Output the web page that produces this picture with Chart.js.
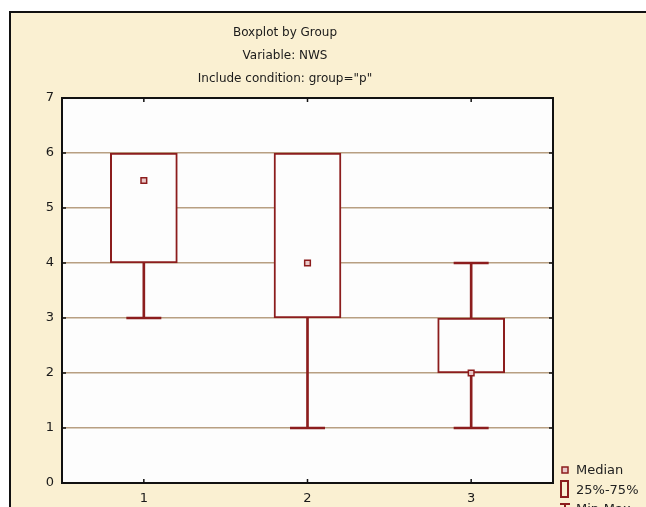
<!DOCTYPE html>
<html>
<head>
<meta charset="utf-8">
<script src="https://cdn.jsdelivr.net/npm/chart.js@4.4.0/dist/chart.umd.min.js"></script>
<style>
  html, body { margin: 0; padding: 0; background: #fff; }
  #wrap { position: relative; width: 646px; height: 507px; overflow: hidden; }
  #panel {
    position: absolute; left: 9px; top: 11px; width: 700px; height: 600px;
    background: #faf0d2; border-left: 2px solid #111; border-top: 2px solid #111;
  }
  #c { position: absolute; left: 0; top: 0; }
</style>
</head>
<body>
<div id="wrap">
  <div id="panel"></div>
  <canvas id="c" width="646" height="507"></canvas>
</div>
<script>
// boxplot values per group
const groups = ["1", "2", "3"];
const mins = [3, 1, 1];
const q1s = [4, 3, 2];
const medians = [5.5, 4, 2];
const q3s = [6, 6, 3];
const maxs = [6, 6, 4];
const yTicks = [0, 1, 2, 3, 4, 5, 6, 7];
const titleLines = ["Boxplot by Group", "Variable: NWS", "Include condition: group=\"p\""];
const legendLabels = ["Median", "25%-75%", "Min-Max"];

const RED = "#8c1d1d";
const GRID = "#b89f82";
const FONT = "'DejaVu Sans', 'Liberation Sans', Arial, sans-serif";

// frame, inner ticks and legend
const framePlugin = {
  id: "frame",
  beforeDraw(chart) {
    const { ctx, chartArea: a } = chart;
    ctx.save();
    ctx.fillStyle = "#fdfdfd";
    ctx.fillRect(a.left, a.top, a.right - a.left, a.bottom - a.top);
    ctx.restore();
  },
  afterDraw(chart) {
    const { ctx, chartArea: a, scales } = chart;
    ctx.save();
    ctx.strokeStyle = "#111";
    ctx.lineWidth = 2;
    ctx.strokeRect(a.left, a.top, a.right - a.left, a.bottom - a.top);

    ctx.lineWidth = 1.5;
    ctx.beginPath();
    scales.y.ticks.forEach((t, i) => {
      const y = scales.y.getPixelForTick(i);
      ctx.moveTo(a.left, y); ctx.lineTo(a.left + 4, y);
      ctx.moveTo(a.right, y); ctx.lineTo(a.right - 4, y);
    });
    scales.x.ticks.forEach((t, i) => {
      const x = scales.x.getPixelForTick(i);
      ctx.moveTo(x, a.top); ctx.lineTo(x, a.top + 4);
      ctx.moveTo(x, a.bottom); ctx.lineTo(x, a.bottom - 4);
    });
    ctx.stroke();

    // legend
    ctx.strokeStyle = RED;
    ctx.lineWidth = 1.5;
    ctx.fillStyle = "#e9c9c9";
    ctx.fillRect(562, 467, 6, 6);
    ctx.strokeRect(562, 467, 6, 6);
    ctx.lineWidth = 2;
    ctx.strokeRect(561, 481, 7, 16);
    ctx.beginPath();
    ctx.moveTo(560, 504); ctx.lineTo(570, 504);
    ctx.moveTo(565, 504); ctx.lineTo(565, 512);
    ctx.stroke();

    ctx.fillStyle = "#222";
    ctx.font = "13px " + FONT;
    ctx.textAlign = "left";
    ctx.textBaseline = "middle";
    legendLabels.forEach((t, i) => ctx.fillText(t, 576, 471 + i * 19.5));
    ctx.restore();
  }
};

const boxes = q1s.map((q, i) => [q, q3s[i]]);
const lowerWhiskers = mins.map((m, i) => [m, q1s[i]]);
// no upper whisker or cap where the max coincides with the upper quartile
const upperWhiskers = maxs.map((m, i) => (m > q3s[i] ? [q3s[i], m] : null));
const upperCaps = maxs.map((m, i) => (m > q3s[i] ? m : null));

new Chart(document.getElementById("c"), {
  type: "bar",
  data: {
    labels: groups,
    datasets: [
      {
        label: "lower whisker",
        data: lowerWhiskers,
        backgroundColor: RED,
        barThickness: 2,
        grouped: false,
        order: 5
      },
      {
        label: "upper whisker",
        data: upperWhiskers,
        backgroundColor: RED,
        barThickness: 2,
        grouped: false,
        order: 4
      },
      {
        type: "line",
        label: "Min",
        data: mins,
        showLine: false,
        pointStyle: "line",
        pointRadius: 17.5,
        borderColor: RED,
        borderWidth: 2.5,
        order: 3
      },
      {
        type: "line",
        label: "Max",
        data: upperCaps,
        showLine: false,
        pointStyle: "line",
        pointRadius: 17.5,
        borderColor: RED,
        borderWidth: 2.5,
        order: 3
      },
      {
        label: "25%-75%",
        data: boxes,
        backgroundColor: "#fdfdfd",
        borderColor: RED,
        borderWidth: 2,
        borderSkipped: false,
        barThickness: 67,
        grouped: false,
        order: 2
      },
      {
        type: "line",
        label: "Median",
        data: medians,
        showLine: false,
        pointStyle: "rect",
        pointRadius: 4,
        pointBackgroundColor: "#e9c9c9",
        pointBorderColor: RED,
        pointBorderWidth: 1.5,
        order: 1
      }
    ]
  },
  options: {
    responsive: false,
    animation: false,
    events: [],
    layout: { padding: { left: 17, right: 93, top: 10, bottom: 0 } },
    plugins: {
      legend: { display: false },
      tooltip: { enabled: false },
      title: {
        display: true,
        text: titleLines,
        color: "#1a1a1a",
        font: { family: FONT, size: 12, weight: "normal", lineHeight: 1.917 },
        padding: { top: 11.8, bottom: 7.2 }
      }
    },
    scales: {
      x: {
        offset: true,
        grid: { display: false, drawTicks: false },
        border: { display: false },
        ticks: { color: "#1a1a1a", font: { family: FONT, size: 13 }, padding: 8 },
        afterFit(scale) { scale.height = 24; }
      },
      y: {
        min: 0,
        max: 7,
        afterBuildTicks(scale) { scale.ticks = yTicks.map(v => ({ value: v })); },
        grid: {
          drawTicks: false,
          lineWidth: 1.5,
          color: ctx => (ctx.tick && (ctx.tick.value === 0 || ctx.tick.value === 7)) ? "rgba(0,0,0,0)" : GRID
        },
        border: { display: false },
        ticks: { color: "#1a1a1a", font: { family: FONT, size: 13 }, padding: 8 },
        afterFit(scale) { scale.width = 45; }
      }
    }
  },
  plugins: [framePlugin]
});
</script>
</body>
</html>
